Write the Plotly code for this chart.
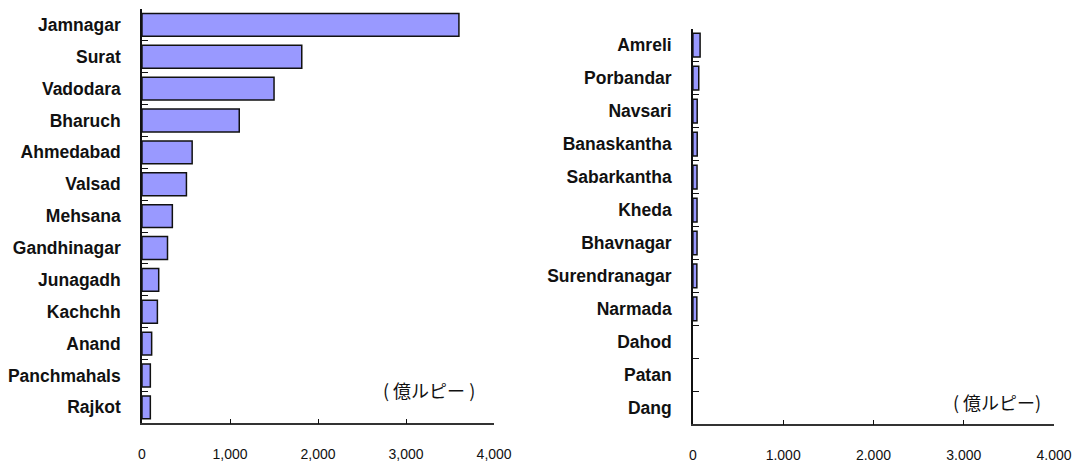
import plotly.graph_objects as go

# District values, in 億ルピー
left_districts = ["Jamnagar", "Surat", "Vadodara", "Bharuch", "Ahmedabad", "Valsad",
                  "Mehsana", "Gandhinagar", "Junagadh", "Kachchh", "Anand",
                  "Panchmahals", "Rajkot"]
left_values = [3600, 1815, 1500, 1105, 570, 505, 345, 290, 190, 175, 110, 95, 95]

right_districts = ["Amreli", "Porbandar", "Navsari", "Banaskantha", "Sabarkantha",
                   "Kheda", "Bhavnagar", "Surendranagar", "Narmada", "Dahod",
                   "Patan", "Dang"]
right_values = [80, 65, 48, 48, 46, 46, 46, 44, 44, 0, 0, 0]

tick_vals = [0, 1000, 2000, 3000, 4000]
left_tick_text = ["0", "1,000", "2,000", "3,000", "4,000"]
right_tick_text = ["0", "1.000", "2.000", "3.000", "4.000"]

unit_label_left = "( 億ルピー )"
unit_label_right = "( 億ルピー)"

BAR_FILL = "#9999FF"
LABEL_FONT = dict(family="Liberation Sans, Arial, sans-serif", size=17.5,
                  color="#111111", weight="bold")
TICK_FONT = dict(family="Liberation Sans, Arial, sans-serif", size=14, color="#111111")
CJK_FONT = dict(family="Noto Sans CJK JP, sans-serif", size=18, color="#111111")


def outline_widths(values):
    # empty bars get no outline so nothing is drawn for them
    return [1.5 if v > 0 else 0 for v in values]


fig = go.Figure()

fig.add_trace(go.Bar(
    x=left_values, y=left_districts, orientation="h",
    xaxis="x", yaxis="y",
    marker=dict(color=BAR_FILL,
                line=dict(color="#111111", width=outline_widths(left_values))),
    hoverinfo="x+y", showlegend=False,
))
fig.add_trace(go.Bar(
    x=right_values, y=right_districts, orientation="h",
    xaxis="x2", yaxis="y2",
    marker=dict(color=BAR_FILL,
                line=dict(color="#111111", width=outline_widths(right_values))),
    hoverinfo="x+y", showlegend=False,
))

W, H = 1075, 463
PX = 1057  # horizontal span used to convert pixel positions to paper fractions


def xaxis_style(domain, anchor, ticktext):
    return dict(
        domain=domain, anchor=anchor, range=[0, 4000],
        tickmode="array", tickvals=tick_vals, ticktext=ticktext,
        ticks="inside", ticklen=5, tickcolor="#111111", tickwidth=1,
        showline=True, linecolor="#333333", linewidth=1.5,
        showgrid=False, zeroline=False,
        tickfont=TICK_FONT, ticklabelstandoff=17, fixedrange=True,
    )


def yaxis_style(domain, anchor, cats):
    return dict(
        domain=domain, anchor=anchor, type="category",
        categoryorder="array", categoryarray=cats,
        range=[len(cats) - 0.5, -0.5],
        ticks="inside", tickson="boundaries", ticklen=6,
        tickcolor="#111111", tickwidth=1,
        showline=True, linecolor="#111111", linewidth=1.5,
        showgrid=False, zeroline=False,
        tickfont=LABEL_FONT, ticklabelstandoff=16, fixedrange=True,
    )


fig.update_layout(
    width=W, height=H,
    margin=dict(l=0, r=0, t=0, b=0),
    paper_bgcolor="white", plot_bgcolor="white",
    bargap=0.28,
    xaxis=xaxis_style([138.5 / PX, 492 / PX], "y", left_tick_text),
    yaxis=yaxis_style([1 - 427 / H, 1 - 9 / H], "x", left_districts),
    xaxis2=xaxis_style([691.5 / PX, 1054 / PX], "y2", right_tick_text),
    yaxis2=yaxis_style([1 - 428 / H, 1 - 29 / H], "x2", right_districts),
    annotations=[
        dict(text=unit_label_left, xref="paper", yref="paper",
             x=427 / PX, y=1 - 393 / H, showarrow=False, font=CJK_FONT,
             xanchor="center", yanchor="middle"),
        dict(text=unit_label_right, xref="paper", yref="paper",
             x=997 / PX, y=1 - 405 / H, showarrow=False, font=CJK_FONT,
             xanchor="center", yanchor="middle"),
    ],
)

fig.write_html("out.html")
